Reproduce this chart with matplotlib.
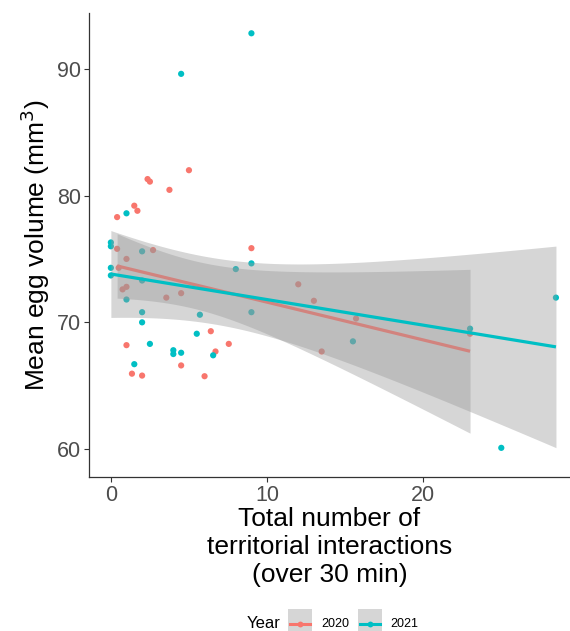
import numpy as np
import matplotlib
matplotlib.use("Agg")
import matplotlib.pyplot as plt
from matplotlib.patches import Rectangle
from matplotlib.lines import Line2D

plt.rcParams['font.family'] = ['Liberation Sans', 'DejaVu Sans']

years = ["2020", "2021"]
colors = ["#F8766D", "#00BFC4"]

x2020 = [0.4, 1.5, 1.7, 2.35, 2.5, 3.75, 5.0, 0.4, 2.7, 1.0, 0.5, 0.75, 1.0, 3.55,
         4.5, 6.4, 7.55, 1.0, 6.7, 4.5, 1.35, 2.0, 6.0, 9.0, 12.0, 13.0, 15.7, 13.5, 23.0]
y2020 = [78.3, 79.2, 78.8, 81.3, 81.1, 80.45, 82.0, 75.8, 75.7, 75.0, 74.3, 72.6, 72.8, 71.95,
         72.3, 69.3, 68.3, 68.2, 67.7, 66.6, 65.95, 65.8, 65.75, 75.85, 73.0, 71.7, 70.3, 67.7, 69.1]

x2021 = [0, 0, 2.0, 0, 0, 2.0, 1.0, 2.0, 2.0, 5.7, 5.5, 2.5, 4.0, 4.0, 4.5, 6.55, 1.5,
         1.0, 9.0, 8.0, 9.0, 9.0, 4.5, 15.5, 23.0, 28.5, 25.0]
y2021 = [76.3, 76.0, 75.6, 74.3, 73.7, 73.3, 71.8, 70.8, 70.0, 70.6, 69.1, 68.3, 67.8, 67.5,
         67.6, 67.4, 66.7, 78.6, 74.65, 74.2, 70.8, 92.8, 89.6, 68.5, 69.5, 71.95, 60.1]

xticks = [0, 10, 20]
yticks = [60, 70, 80, 90]

# t quantiles (0.975) for df = n-2
t_crit = {27: 2.0518, 25: 2.0595}

W, H = 570, 631
fig = plt.figure(figsize=(W / 100, H / 100), dpi=100)
ax = fig.add_axes([89 / W, (H - 477) / H, (W - 89) / W, (477 - 13) / H])

series = [(x2020, y2020), (x2021, y2021)]
for (xs, ys), c in zip(series, colors):
    ax.scatter(xs, ys, s=20, color=c, edgecolors='none', zorder=2)

for (xs, ys), c in zip(series, colors):
    xs = np.asarray(xs, float)
    ys = np.asarray(ys, float)
    n = len(xs)
    b, a = np.polyfit(xs, ys, 1)
    res = ys - (a + b * xs)
    s = np.sqrt(np.sum(res ** 2) / (n - 2))
    sxx = np.sum((xs - xs.mean()) ** 2)
    grid = np.linspace(xs.min(), xs.max(), 80)
    fit = a + b * grid
    se = s * np.sqrt(1 / n + (grid - xs.mean()) ** 2 / sxx)
    t = t_crit[n - 2]
    ax.fill_between(grid, fit - t * se, fit + t * se, color="#999999", alpha=0.4,
                    linewidth=0, zorder=3)
    ax.plot(grid, fit, color=c, lw=2.3, zorder=3, solid_capstyle='butt')

ax.set_xlim(-1.4, 29.4)
ax.set_ylim(57.8, 94.4)
ax.set_xticks(xticks)
ax.set_yticks(yticks)
ax.tick_params(axis='both', labelsize=15.5, labelcolor="#4d4d4d", color="#333333",
               length=3.5, width=0.8, pad=2)
for side in ['top', 'right']:
    ax.spines[side].set_visible(False)
for side in ['left', 'bottom']:
    ax.spines[side].set_color("#333333")
    ax.spines[side].set_linewidth(0.9)

ax.set_ylabel("Mean egg volume (mm$^3$)", fontsize=19, color="black", labelpad=4)
ax.set_xlabel("Total number of\nterritorial interactions\n(over 30 min)", fontsize=19,
              color="black", linespacing=1.2, labelpad=1)

# legend at bottom
fig.text(247 / W, 1 - 624 / H, "Year", fontsize=12, ha='left', va='center')
key_x = [288, 357.5]
lab_x = [321, 390]
for kx, lx, c, yr in zip(key_x, lab_x, colors, years):
    fig.patches.append(Rectangle((kx / W, 0), 24 / W, (H - 609) / H,
                                 transform=fig.transFigure, facecolor="#d6d6d6",
                                 edgecolor='none'))
    yk = 1 - 624 / H
    fig.lines.append(Line2D([(kx + 2) / W, (kx + 22) / W], [yk, yk], transform=fig.transFigure,
                            color=c, lw=2.2))
    fig.lines.append(Line2D([(kx + 12) / W], [yk], transform=fig.transFigure, color=c,
                            marker='o', markersize=4.2, markeredgewidth=0))
    fig.text(lx / W, yk, yr, fontsize=9, ha='left', va='center')

fig.savefig("out.png", dpi=100)
